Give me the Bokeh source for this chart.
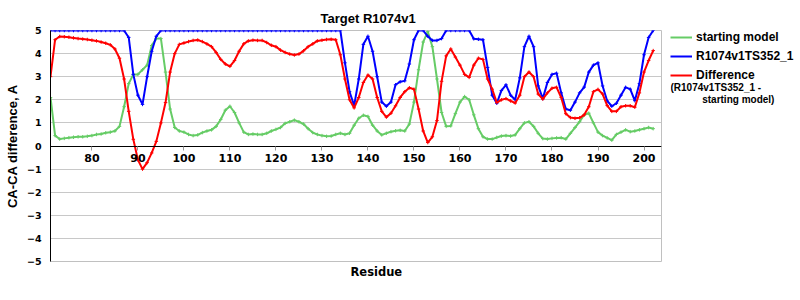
from bokeh.plotting import figure
from bokeh.layouts import row
from bokeh.models import Range1d, FixedTicker, Legend, LegendItem, Label, Title
from bokeh.embed import file_html
from bokeh.resources import INLINE

# ---------------- data ----------------
residues = list(range(71, 203))

starting_model = [
    2.1, 0.45, 0.3, 0.33, 0.36, 0.38, 0.4, 0.4, 0.42, 0.45,
    0.5, 0.52, 0.57, 0.6, 0.65, 0.85, 1.7, 2.7, 3.1, 3.1,
    3.3, 3.5, 4.35, 4.65, 4.65, 3.2, 1.6, 0.8, 0.65, 0.6,
    0.5, 0.45, 0.48, 0.58, 0.65, 0.7, 0.85, 1.15, 1.55, 1.72,
    1.45, 1.0, 0.6, 0.5, 0.52, 0.5, 0.5, 0.55, 0.65, 0.72,
    0.8, 0.98, 1.05, 1.12, 1.05, 0.95, 0.75, 0.58, 0.5, 0.45,
    0.42, 0.43, 0.5, 0.55, 0.5, 0.55, 0.9, 1.2, 1.33, 1.28,
    0.9, 0.65, 0.48, 0.55, 0.62, 0.66, 0.68, 0.65, 0.95, 1.9,
    3.3, 4.5, 4.95, 4.3, 2.9, 1.45, 0.85, 0.87, 1.4, 1.9,
    2.14, 2.0, 1.35, 0.75, 0.4, 0.3, 0.3, 0.37, 0.43, 0.45,
    0.43, 0.48, 0.75, 1.0, 1.05, 0.85, 0.55, 0.32, 0.3, 0.33,
    0.35, 0.36, 0.3, 0.55, 0.8, 1.05, 1.35, 1.42, 1.0, 0.6,
    0.45, 0.35, 0.25, 0.5, 0.6, 0.7, 0.62, 0.65, 0.7, 0.75,
    0.8, 0.75,
]

model_ts352 = [
    5, 5, 5, 5, 5, 5, 5, 5, 5, 5,
    5, 5, 5, 5, 5, 5, 5, 4.7, 3.1, 2.2,
    1.8, 3.0, 4.1, 4.75, 5, 5, 5, 5, 5, 5,
    5, 5, 5, 5, 5, 5, 5, 5, 5, 5,
    5, 5, 5, 5, 5, 5, 5, 5, 5, 5,
    5, 5, 5, 5, 5, 5, 5, 5, 5, 5,
    5, 5, 5, 5, 3.6, 2.35, 1.75, 2.9, 4.4, 4.75,
    4.1, 3.0, 1.9, 1.72, 1.9, 2.65, 2.78, 2.82, 3.55, 4.6,
    5, 5, 4.75, 4.57, 4.57, 4.65, 5, 5, 5, 5,
    5, 5, 4.64, 4.62, 4.6, 3.4, 2.2, 1.85, 2.4, 2.65,
    2.2, 2.0, 2.95, 4.3, 4.75, 4.3, 2.6, 2.05, 2.75, 3.1,
    3.15, 2.3, 1.6, 1.55, 1.9, 2.3, 2.55, 3.2, 3.5, 3.6,
    2.6, 1.95, 1.72, 1.85, 2.2, 2.54, 2.46, 1.96, 2.7, 3.95,
    4.7, 5,
]

difference = [
    3.0, 4.6, 4.74, 4.73, 4.71, 4.68, 4.65, 4.63, 4.61, 4.58,
    4.55, 4.5, 4.45, 4.38, 4.2, 3.8, 2.9, 1.5, 0.29, -0.6,
    -1.0, -0.72, -0.3, 0.2, 1.0, 1.88, 3.2, 4.0, 4.4, 4.46,
    4.52, 4.57, 4.59, 4.52, 4.42, 4.3, 4.05, 3.75, 3.55, 3.45,
    3.7, 4.1, 4.42, 4.55, 4.58, 4.57, 4.57, 4.48, 4.36, 4.3,
    4.15, 4.05, 3.98, 3.94, 3.98, 4.12, 4.3, 4.42, 4.55, 4.58,
    4.61, 4.62, 4.6, 3.95, 2.9, 2.0, 1.65, 2.1, 2.75, 3.07,
    2.9, 2.1, 1.5, 1.25, 1.42, 1.74, 2.1, 2.35, 2.52, 2.46,
    1.6, 0.65, 0.15, 0.4, 1.1, 2.8, 3.9, 4.2, 3.85, 3.5,
    3.1, 2.97, 3.5, 3.8, 3.75, 2.9, 2.46, 1.88, 2.0, 2.05,
    1.95, 1.86, 2.2, 3.0, 3.2, 3.0, 2.25, 2.03, 2.3, 2.5,
    2.54, 2.1, 1.4, 1.23, 1.2, 1.22, 1.35, 1.7, 2.35, 2.45,
    2.25, 1.75, 1.5, 1.5, 1.7, 1.74, 1.74, 1.68, 2.3, 3.2,
    3.7, 4.13,
]

x_ticks = [80, 90, 100, 110, 120, 130, 140, 150, 160, 170, 180, 190, 200]
y_ticks = [-5, -4, -3, -2, -1, 0, 1, 2, 3, 4, 5]
y_tick_labels = {5: "5", 4: "4", 3: "3", 2: "2", 1: "1", 0: "0",
                 -1: "\u22121", -2: "\u22122", -3: "\u22123", -4: "\u22124", -5: "\u22125"}

series_names = ["starting model", "R1074v1TS352_1", "Difference"]
series_colors = ["#66cc66", "#0000ff", "#ff0000"]
all_series = [starting_model, model_ts352, difference]
difference_note = ["(R1074v1TS352_1 -", "starting model)"]

# ---------------- main figure ----------------
p = figure(width=662, height=300, output_backend="svg", toolbar_location=None,
           x_range=Range1d(71, 203.8), y_range=Range1d(-5, 5),
           min_border_left=50, min_border_right=1, min_border_top=30,
           min_border_bottom=39, background_fill_color="white",
           border_fill_color="white")

p.title.text = "Target R1074v1"
p.title.align = "left"
p.title.offset = 270
p.title.text_font = "Liberation Sans"
p.title.text_font_size = "13px"
p.title.text_font_style = "bold"
p.title.text_color = "black"

p.outline_line_color = "#c0c0c0"
p.xgrid.visible = False
p.ygrid.ticker = FixedTicker(ticks=y_ticks)
p.ygrid.grid_line_color = "#c8c8c8"
p.ygrid.grid_line_width = 1

# x axis drawn at y = 0
xa = p.xaxis[0]
xa.fixed_location = 0
xa.ticker = FixedTicker(ticks=x_ticks)
xa.axis_line_color = "black"
xa.major_tick_in = 0
xa.major_tick_out = 4
xa.major_tick_line_color = "#999999"
xa.minor_tick_line_color = None
xa.major_label_standoff = 4
xa.major_label_text_font = "DejaVu Sans"
xa.major_label_text_font_style = "bold"
xa.major_label_text_font_size = "11px"
xa.major_label_text_color = "black"

ya = p.yaxis[0]
ya.ticker = FixedTicker(ticks=y_ticks)
ya.major_label_overrides = y_tick_labels
ya.axis_line_color = "black"
ya.major_tick_in = 0
ya.major_tick_out = 0
ya.minor_tick_line_color = None
ya.major_label_standoff = 9
ya.major_label_text_font = "DejaVu Sans"
ya.major_label_text_font_style = "bold"
ya.major_label_text_font_size = "9.5px"
ya.major_label_text_color = "black"
ya.axis_label = "CA-CA difference, A"
ya.axis_label_text_font = "Liberation Sans"
ya.axis_label_text_font_style = "bold"
ya.axis_label_text_font_size = "13px"
ya.axis_label_text_color = "black"
ya.axis_label_standoff = 4

p.add_layout(Title(text="Residue", align="left", offset=300, standoff=3,
                   text_font="DejaVu Sans", text_font_style="bold",
                   text_font_size="11.5px", text_color="black"), "below")

for vals, col in zip(all_series, series_colors):
    p.line(residues, vals, line_color=col, line_width=2)
    p.scatter(residues, vals, marker="cross", size=3.5, line_color=col, line_width=1)

# ---------------- legend panel ----------------
# frame of this panel is aligned with the main frame (screen y 30..261)
q = figure(width=138, height=300, output_backend="svg", toolbar_location=None,
           title=None, x_range=Range1d(0, 130), y_range=Range1d(261, 30),
           min_border_left=8, min_border_top=30, min_border_right=0, min_border_bottom=39,
           outline_line_color=None,
           background_fill_color="white", border_fill_color="white")
q.axis.visible = False
q.grid.visible = False

items = []
for name, vals, col in zip(series_names, all_series, series_colors):
    r = q.line(residues, vals, line_color=col, line_width=2, visible=False)
    items.append(LegendItem(label=name, renderers=[r]))

legend = Legend(items=items, location="top_left", orientation="vertical",
                padding=0, margin=0, spacing=5,
                glyph_width=22, glyph_height=10, label_height=10, label_standoff=4,
                border_line_color=None, background_fill_alpha=0,
                label_text_font="Liberation Sans", label_text_font_style="bold",
                label_text_font_size="12px", label_text_color="black")
q.add_layout(legend, "center")

q.add_layout(Label(x=0, y=86.7, text=difference_note[0], text_baseline="middle",
                   text_font="Liberation Sans", text_font_style="bold", text_font_size="10px",
                   text_color="black"))
q.add_layout(Label(x=31.7, y=99, text=difference_note[1], text_baseline="middle",
                   text_font="Liberation Sans", text_font_style="bold", text_font_size="10px",
                   text_color="black"))

layout = row(p, q, spacing=0)
open("out.html", "w").write(file_html(layout, INLINE))
